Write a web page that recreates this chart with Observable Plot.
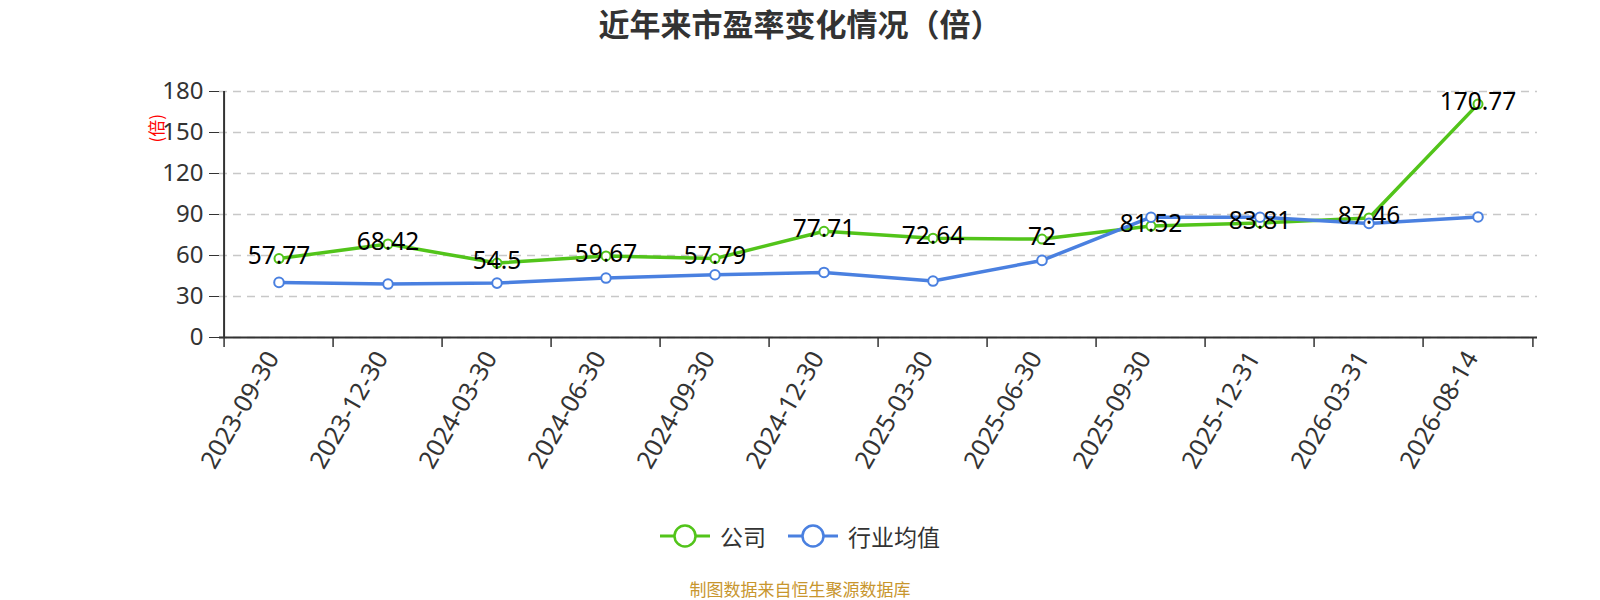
<!DOCTYPE html>
<html><head><meta charset="utf-8">
<script src="https://cdn.jsdelivr.net/npm/d3@7"></script>
<script src="https://cdn.jsdelivr.net/npm/@observablehq/plot@0.6"></script>
<style>
body{margin:0;background:#fff;font-family:"Noto Sans","Noto Sans CJK SC",sans-serif;width:1600px;height:600px;overflow:hidden}
#title{height:45px;line-height:45px;text-align:center;font-size:31px;font-weight:bold;color:#333;font-family:"Noto Sans CJK SC",sans-serif}
#chart{height:465px}
#legend{height:52px;display:flex;justify-content:center;align-items:center;font-size:23px;color:#333;font-family:"Noto Sans CJK SC",sans-serif}
.item{display:flex;align-items:center;margin:0 11px}
.item span{margin-left:10px}
#caption{height:54px;line-height:54px;text-align:center;font-size:17px;color:#c8962e;font-family:"Noto Sans CJK SC",sans-serif}
</style></head>
<body>
<div id="title">近年来市盈率变化情况（倍）</div>
<div id="chart"></div>
<div id="legend"></div>
<div id="caption">制图数据来自恒生聚源数据库</div>
<script>
const dates = ["2023-09-30","2023-12-30","2024-03-30","2024-06-30","2024-09-30","2024-12-30","2025-03-30","2025-06-30","2025-09-30","2025-12-31","2026-03-31","2026-08-14"];
const companyPE = [57.77, 68.42, 54.5, 59.67, 57.79, 77.71, 72.64, 72, 81.52, 83.81, 87.46, 170.77];
const industryPE = [40.3, 39.1, 39.8, 43.5, 45.9, 47.6, 41.3, 56.4, 88.0, 88.0, 83.5, 88.2];
const yTicks = [0, 30, 60, 90, 120, 150, 180];
const seriesNames = ["公司", "行业均值"];
const colors = ["#52c41a", "#4a80e0"];
const yUnit = "(倍)";

const W = 1600, H = 465, ML = 219, MR = 63, MT = 46, MB = 173;
const bw = (W - ML - MR) / dates.length;
const rows = dates.map((d, i) => ({date: d, company: companyPE[i], industry: industryPE[i]}));
const font = '"Noto Sans","Noto Sans CJK SC",sans-serif';

const chart = Plot.plot({
  width: W, height: H, marginLeft: ML, marginRight: MR, marginTop: MT, marginBottom: MB,
  style: {fontFamily: font, fontSize: "22px", color: "#333", background: "#fff"},
  x: {type: "band", domain: dates, padding: 0, label: null},
  y: {domain: [0, 180], label: null},
  marks: [
    Plot.gridY(yTicks, {stroke: "#c8c8c8", strokeOpacity: 1, strokeDasharray: "8,6", strokeWidth: 1.5}),
    Plot.ruleY([0], {stroke: "#333", strokeWidth: 2}),
    Plot.ruleX([dates[0]], {x: d => d, dx: -bw / 2, y1: 0, y2: 180, stroke: "#333", strokeWidth: 2}),
    Plot.axisY(yTicks, {tickSize: 10, tickPadding: 6, stroke: "#333", fill: "#333", fontSize: 24, label: null}),
    Plot.axisX({tickSize: 10, dx: -bw / 2, tickFormat: () => "", stroke: "#333", strokeWidth: 1.5, label: null}),
    Plot.axisX([dates[dates.length - 1]], {tickSize: 10, dx: bw / 2, tickFormat: () => "", stroke: "#333", strokeWidth: 1.5, label: null}),
    Plot.axisX({tickSize: 0, tickPadding: 16, dx: -6, tickRotate: -60, fill: "#333", fontSize: 25, label: null}),
    Plot.line(rows, {x: "date", y: "company", stroke: colors[0], strokeWidth: 3.5}),
    Plot.line(rows, {x: "date", y: "industry", stroke: colors[1], strokeWidth: 3.5}),
    Plot.dot(rows, {x: "date", y: "company", r: 4.5, fill: "#fff", stroke: colors[0], strokeWidth: 2}),
    Plot.dot(rows, {x: "date", y: "industry", r: 4.8, fill: "#fff", stroke: colors[1], strokeWidth: 2}),
    Plot.text(rows, {x: "date", y: "company", text: d => String(d.company), dy: -2, fill: "#000", fontSize: 24.5}),
    Plot.text([yUnit], {frameAnchor: "top-left", dx: -69, dy: 51, rotate: -90, fill: "red", fontSize: 17, fontFamily: '"Noto Sans CJK SC",sans-serif'})
  ]
});
document.getElementById("chart").appendChild(chart);

const legend = document.getElementById("legend");
seriesNames.forEach((name, i) => {
  const item = document.createElement("div");
  item.className = "item";
  item.innerHTML = `<svg width="50" height="26"><line x1="0" y1="13" x2="50" y2="13" stroke="${colors[i]}" stroke-width="3"/><circle cx="25" cy="13" r="10.5" fill="#fff" stroke="${colors[i]}" stroke-width="2.5"/></svg><span>${name}</span>`;
  legend.appendChild(item);
});
</script>
</body></html>
